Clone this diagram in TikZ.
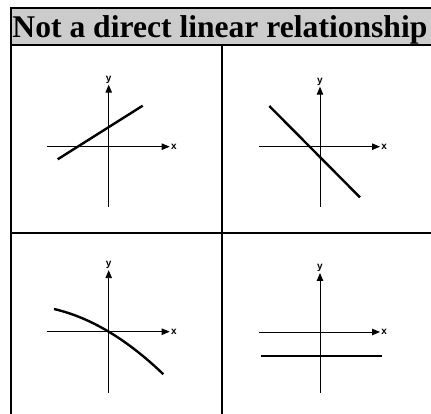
\documentclass[tikz,border=0pt]{standalone}
\usepackage{fontspec}
\setmainfont{Liberation Serif}
\setsansfont{Liberation Sans}
\usetikzlibrary{arrows.meta}

\definecolor{headgray}{HTML}{CCCCCC}

\tikzset{
    tablerule/.style={line width=2pt},
    axisline/.style={line width=0.9pt, -{Triangle[length=8pt,width=6.5pt]}},
    graphline/.style={line width=2.4pt},
    axlabel/.style={font=\sffamily\bfseries\fontsize{10}{10}\selectfont, inner sep=1.2pt},
    titletext/.style={font=\bfseries\fontsize{31.6}{31.6}\selectfont, inner sep=0pt}
}

\begin{document}
\begin{tikzpicture}[x=1pt,y=1pt]
\useasboundingbox (0,0) rectangle (431,414);

% Header band
\fill[headgray] (10.5,368.5) rectangle (431,405.5);
\node[titletext, anchor=base west] (title) at (12.3,376) {Not a direct linear relationship};

% Table rules
\coordinate (tl) at (10.5,405.5);
\coordinate (tr) at (431,405.5);
\coordinate (hl) at (10.5,368.5);
\coordinate (hr) at (431,368.5);
\coordinate (ml) at (10.5,180.5);
\coordinate (mr) at (431,180.5);
\coordinate (bl) at (10.5,0);
\coordinate (vt) at (221.5,368.5);
\coordinate (vb) at (221.5,0);
\draw[tablerule] (tl) -- (tr);
\draw[tablerule] (hl) -- (hr);
\draw[tablerule] (ml) -- (mr);
\draw[tablerule] ([yshift=1pt]tl) -- (bl);
\draw[tablerule] (vt) -- (vb);

% Rising line
\begin{scope}[shift={(108.7,267.3)}]
\coordinate (aW) at (-62,0); \coordinate (aE) at (61,0);
\coordinate (aS) at (0,-60); \coordinate (aN) at (0,62);
\draw[axisline] (aW) -- (aE);
\draw[axisline] (aS) -- (aN);
\node[axlabel, right] (ax) at (aE) {x};
\node[axlabel, above] (ay) at (aN) {y};
\draw[graphline] (-51,-12.6) -- (34,41);
\end{scope}

% Falling line
\begin{scope}[shift={(320,267.3)}]
\coordinate (bW) at (-61,0); \coordinate (bE) at (60,0);
\coordinate (bS) at (0,-60); \coordinate (bN) at (0,60);
\draw[axisline] (bW) -- (bE);
\draw[axisline] (bS) -- (bN);
\node[axlabel, right] (bx) at (bE) {x};
\node[axlabel, above] (by) at (bN) {y};
\draw[graphline] (-50.7,40.7) -- (40,-50.7);
\end{scope}

% Bending curve
\begin{scope}[shift={(108.7,82.3)}]
\coordinate (cW) at (-62,0); \coordinate (cE) at (61,0);
\coordinate (cS) at (0,-61); \coordinate (cN) at (0,61.5);
\draw[axisline] (cW) -- (cE);
\draw[axisline] (cS) -- (cN);
\node[axlabel, right] (cx) at (cE) {x};
\node[axlabel, above] (cy) at (cN) {y};
\draw[graphline] plot[domain=-54.7:54.6, samples=40, smooth] (\x, {-0.597*\x - 0.00333*\x*\x});
\end{scope}

% Flat line
\begin{scope}[shift={(320,82)}]
\coordinate (dW) at (-61,0); \coordinate (dE) at (60,0);
\coordinate (dS) at (0,-61); \coordinate (dN) at (0,59);
\draw[axisline] (dW) -- (dE);
\draw[axisline] (dS) -- (dN);
\node[axlabel, right] (dx) at (dE) {x};
\node[axlabel, above] (dy) at (dN) {y};
\draw[graphline] (-59.3,-24) -- (62.3,-24);
\end{scope}

\end{tikzpicture}
\end{document}
